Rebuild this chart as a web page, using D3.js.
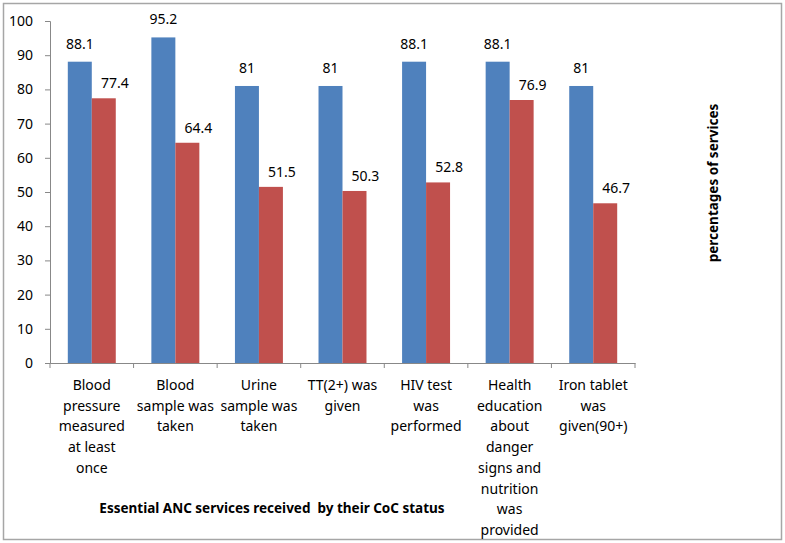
<!DOCTYPE html>
<html>
<head>
<meta charset="utf-8">
<script src="https://d3js.org/d3.v7.min.js"></script>
<style>
  body { margin: 0; background: #fff; }
  text { font-family: "Noto Sans", "Open Sans", sans-serif; fill: #000; }
</style>
</head>
<body>
<div id="chart"></div>
<script>
// categories and the two series (CoC status groups)
const categories = [
    ['Blood', 'pressure', 'measured', 'at least', 'once'],
    ['Blood', 'sample was', 'taken'],
    ['Urine', 'sample was', 'taken'],
    ['TT(2+) was', 'given'],
    ['HIV test', 'was', 'performed'],
    ['Health', 'education', 'about', 'danger', 'signs and', 'nutrition', 'was', 'provided'],
    ['Iron tablet', 'was', 'given(90+)']
];
const seriesA = [88.1, 95.2, 81, 81, 88.1, 88.1, 81];
const seriesB = [77.4, 64.4, 51.5, 50.3, 52.8, 76.9, 46.7];
const yTicks = [0, 10, 20, 30, 40, 50, 60, 70, 80, 90, 100];

const W = 785, H = 543;
const plot = {left: 50, right: 635, top: 21, bottom: 363};

const svg = d3.select('#chart').append('svg')
    .attr('width', W)
    .attr('height', H);

// outer frame
svg.append('rect')
    .attr('x', 3.5).attr('y', 3.5)
    .attr('width', 778).attr('height', 536)
    .attr('fill', 'none')
    .attr('stroke', '#a6a6a6')
    .attr('stroke-width', 1.5);

const x = d3.scaleBand()
    .domain(d3.range(categories.length))
    .range([plot.left, plot.right])
    .padding(0);

const y = d3.scaleLinear()
    .domain([0, 100])
    .range([plot.bottom, plot.top]);

const barW = x.bandwidth() * 0.287;

// y axis
const yAxis = svg.append('g')
    .attr('transform', `translate(${plot.left},0)`)
    .call(d3.axisLeft(y).tickValues(yTicks).tickSize(5).tickPadding(12));
yAxis.select('.domain').attr('stroke', '#888');
yAxis.selectAll('.tick line').attr('stroke', '#888');
yAxis.selectAll('.tick text')
    .attr('font-size', '14px')
    .attr('fill', '#000');

// x axis
const xAxis = svg.append('g')
    .attr('transform', `translate(0,${plot.bottom})`)
    .call(d3.axisBottom(x).tickValues([]).tickSizeOuter(0));
xAxis.select('.domain').attr('stroke', '#888');
const edges = d3.range(categories.length + 1).map(i => plot.left + i * x.step());
xAxis.selectAll('.sep')
    .data(edges)
    .join('line')
    .attr('class', 'sep')
    .attr('x1', d => d).attr('x2', d => d)
    .attr('y1', 0).attr('y2', 5)
    .attr('stroke', '#888');

// bars
const groups = svg.selectAll('.grp')
    .data(categories.map((c, i) => ({i, a: seriesA[i], b: seriesB[i]})))
    .join('g')
    .attr('class', 'grp');

groups.append('rect')
    .attr('x', d => x(d.i) + x.bandwidth() / 2 - barW)
    .attr('y', d => y(d.a))
    .attr('width', barW)
    .attr('height', d => y(0) - y(d.a))
    .attr('fill', '#4f81bd');

groups.append('rect')
    .attr('x', d => x(d.i) + x.bandwidth() / 2)
    .attr('y', d => y(d.b))
    .attr('width', barW)
    .attr('height', d => y(0) - y(d.b))
    .attr('fill', '#c0504d');

// value labels
groups.append('text')
    .attr('x', d => x(d.i) + x.bandwidth() / 2 - barW / 2)
    .attr('y', d => y(d.a) - 13)
    .attr('text-anchor', 'middle')
    .attr('font-size', '14px')
    .text(d => d.a);

groups.append('text')
    .attr('x', d => x(d.i) + x.bandwidth() / 2 + barW / 2 + 11)
    .attr('y', d => y(d.b) - 10)
    .attr('text-anchor', 'middle')
    .attr('font-size', '14px')
    .text(d => d.b);

// category labels (multi-line)
svg.selectAll('.cat')
    .data(categories)
    .join('text')
    .attr('class', 'cat')
    .attr('text-anchor', 'middle')
    .attr('font-size', '14px')
    .each(function(lines, i) {
        d3.select(this).selectAll('tspan')
            .data(lines)
            .join('tspan')
            .attr('x', x(i) + x.bandwidth() / 2)
            .attr('y', (d, k) => 390 + k * 20.7)
            .text(d => d);
    });

// axis titles
svg.append('text')
    .attr('x', 272)
    .attr('y', 513)
    .attr('text-anchor', 'middle')
    .attr('font-size', '13.5px')
    .attr('font-weight', 'bold')
    .attr('xml:space', 'preserve')
    .text('Essential ANC services received  by their CoC status');

svg.append('text')
    .attr('transform', 'translate(718,183) rotate(-90)')
    .attr('text-anchor', 'middle')
    .attr('font-size', '13.5px')
    .attr('font-weight', 'bold')
    .text('percentages of services');
</script>
</body>
</html>
